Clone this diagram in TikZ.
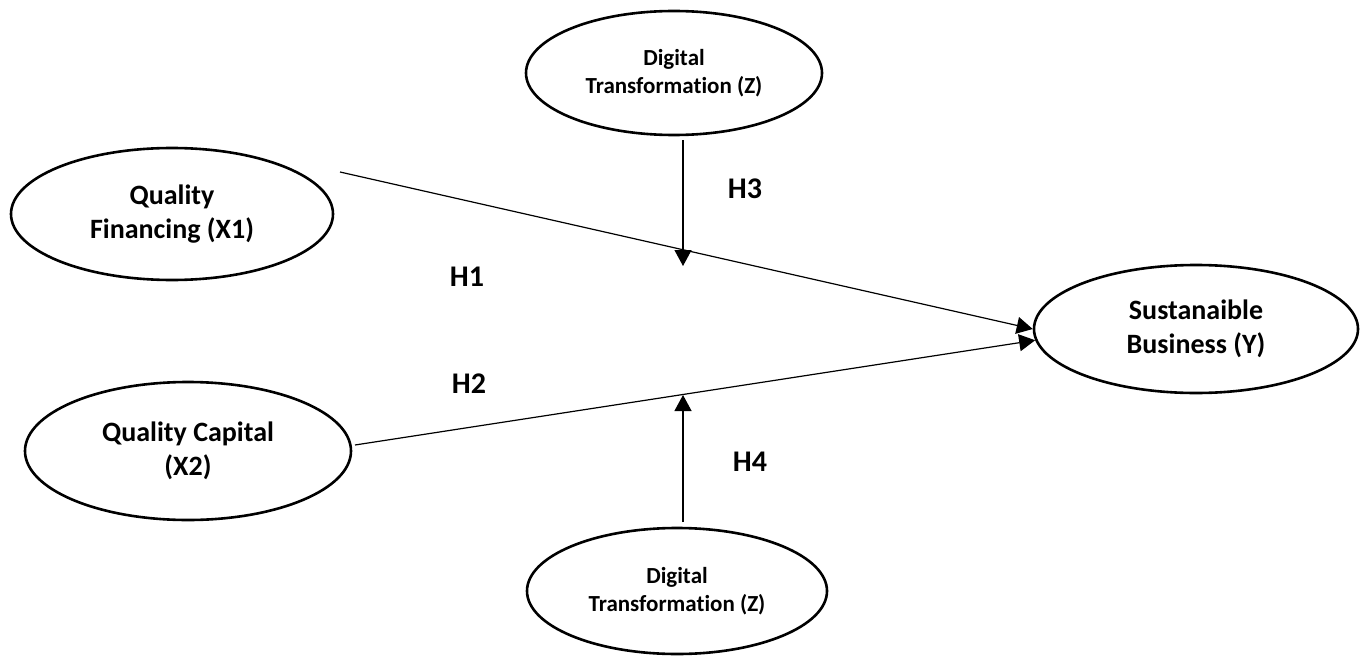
\documentclass[tikz,border=0pt]{standalone}
\usepackage{fontspec}
\setmainfont{Carlito}[RawFeature=-liga]
\usetikzlibrary{shapes.geometric,arrows.meta}
\begin{document}
\begin{tikzpicture}[x=1pt,y=-1pt,
  oval/.style={draw,ellipse,line width=2.6pt,inner sep=0pt,align=center,
    font=\fontsize{28}{34}\selectfont\bfseries},
  smalloval/.style={oval,font=\fontsize{23}{28}\selectfont\bfseries},
  link/.style={line width=1.2pt,-{Triangle[length=16pt,width=17pt]}},
  hlabel/.style={font=\fontsize{30}{36}\selectfont\bfseries}]
\useasboundingbox (0,0) rectangle (1364,658);
\node[smalloval,minimum width=296pt,minimum height=124pt] (dtt) at (674,73) {Digital\\Transformation (Z)};
\node[smalloval,minimum width=300pt,minimum height=126pt] (dtb) at (677,591) {Digital\\Transformation (Z)};
\node[oval,minimum width=322pt,minimum height=132pt] (qf) at (172,214) {Quality\\Financing (X1)};
\node[oval,minimum width=326pt,minimum height=138pt] (qc) at (188,451) {Quality Capital\\(X2)};
\node[oval,minimum width=324pt,minimum height=128pt] (sb) at (1196,329) {Sustanaible\\Business (Y)};
\coordinate (qfout) at (340,172);
\coordinate (qcout) at (355,445);
\draw[link] (qfout) -- (sb.180);
\draw[link] (qcout) -- (sb.184);
\coordinate (h3s) at (683,140);
\coordinate (h3e) at (683,266);
\coordinate (h4s) at (683,522);
\coordinate (h4e) at (683,395);
\draw[link] (h3s) -- (h3e);
\draw[link] (h4s) -- (h4e);
\node[hlabel] (h1) at (467,277) {H1};
\node[hlabel] (h2) at (469,384) {H2};
\node[hlabel] (h3) at (745,189) {H3};
\node[hlabel] (h4) at (750,462) {H4};
\end{tikzpicture}
\end{document}
